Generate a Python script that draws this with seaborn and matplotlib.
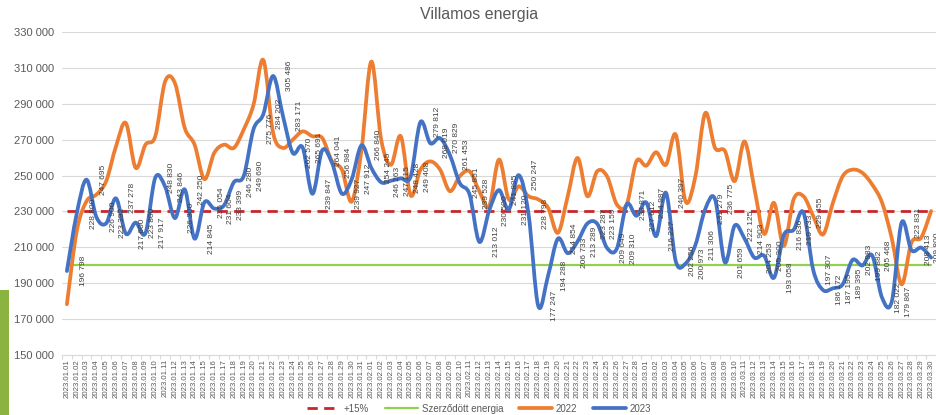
import matplotlib
matplotlib.use("Agg")
import matplotlib.pyplot as plt
from matplotlib.path import Path
from matplotlib.patches import PathPatch, Rectangle
from matplotlib.lines import Line2D
from matplotlib.ticker import FuncFormatter
import numpy as np
import pandas as pd
import seaborn as sns

# Data
dates = pd.date_range("2023-01-01", "2023-03-30").strftime("%Y.%m.%d").tolist()

values_2022 = [178300, 219000, 235700, 239400, 246900, 266300, 279300, 254300, 267200, 271900,
               302400, 301500, 276500, 267200, 248000, 262600, 267200, 265400, 275600, 289400,
               314400, 273700, 265400, 270000, 274600, 271900, 270900, 257900, 253300, 235500,
               264400, 313500, 270000, 256000, 271900, 239000, 253300, 257900, 253300, 241300,
               249600, 252400, 241300, 233000, 258900, 236700, 244000, 238500, 236700, 232000,
               218100, 238500, 259800, 238500, 252400, 249600, 233900, 233900, 258000, 255500,
               263000, 256000, 272800, 235500, 249600, 284800, 265400, 263700, 246900, 269000,
               243000, 217500, 234800, 210700, 236700, 238500, 227400, 217200, 234800, 249600,
               253300, 251500, 245000, 235000, 215000, 189400, 212600, 215500, 230200]

values_2023 = [196798, 228800, 247695, 226900, 223392, 237278, 217600, 223800, 217917, 248830,
               243846, 226300, 242250, 214845, 235054, 231604, 233399, 246280, 249690, 275776,
               284202, 305486, 283171, 262570, 265691, 239847, 264041, 256984, 239927, 247912,
               266840, 254245, 246263, 247115, 248428, 249408, 279812, 268019, 270829, 261453,
               245851, 239528, 213012, 230500, 241895, 231120, 250247, 228798, 177247, 194288,
               214854, 206733, 213289, 223287, 223159, 209649, 209310, 233871, 227612, 234987,
               216227, 240397, 202256, 200973, 211306, 231279, 236775, 201659, 222125, 214903,
               204253, 205300, 193058, 216836, 219733, 229455, 197307, 186172, 187195, 189395,
               202983, 199882, 205468, 182022, 179867, 223831, 208413, 209800, 204300]

plus15_level = 230000
contract_level = 200000
y_ticks = list(range(150000, 330001, 20000))

C_2022 = "#ED7D31"
C_2023 = "#4472C4"
C_RED = "#C8262B"
C_GREEN = "#92D050"
C_TEXT = "#595959"
C_GRID = "#D9D9D9"

sns.set_theme(style="white")
plt.rcParams['font.family'] = ['Liberation Sans', 'DejaVu Sans']


def fmt(v):
    return f"{v:,.0f}".replace(",", " ")


def smooth_path(y):
    # Excel-style smoothed line: cubic Bezier through every data point
    pts = np.column_stack([np.arange(len(y)), y]).astype(float)
    n = len(pts)
    verts, codes = [pts[0]], [Path.MOVETO]
    for i in range(n - 1):
        p0, p1 = pts[max(i - 1, 0)], pts[i]
        p2, p3 = pts[i + 1], pts[min(i + 2, n - 1)]
        verts += [p1 + (p2 - p0) / 6, p2 - (p3 - p1) / 6, p2]
        codes += [Path.CURVE4] * 3
    return Path(verts, codes)


n = len(dates)
x = np.arange(n)
df = pd.DataFrame({"x": x,
                   "plus15": [plus15_level] * n,
                   "contract": [contract_level] * n})

fig = plt.figure(figsize=(9.36, 4.15), dpi=100)
ax = fig.add_axes([62 / 936, 1 - 355 / 415, (936 - 62) / 936, (355 - 32) / 415])

sns.lineplot(data=df, x="x", y="plus15", ax=ax, color=C_RED, linewidth=2.0,
             linestyle=(0, (3.7, 2.3)), zorder=2)
sns.lineplot(data=df, x="x", y="contract", ax=ax, color=C_GREEN, linewidth=1.6, zorder=2)

for vals, col in [(values_2022, C_2022), (values_2023, C_2023)]:
    ax.add_patch(PathPatch(smooth_path(vals), facecolor="none", edgecolor=col,
                           linewidth=2.7, capstyle="round", joinstyle="round", zorder=3))

for i, v in enumerate(values_2023):
    ax.annotate(fmt(v), (i, v), xytext=(12, 0), textcoords="offset points",
                rotation=90, ha="center", va="center", fontsize=6.0,
                color="#404040", annotation_clip=False, zorder=4)

ax.set_xlim(-0.5, 88.32)
ax.set_ylim(150000, 330000)
ax.set_yticks(y_ticks)
ax.yaxis.set_major_formatter(FuncFormatter(lambda v, p: fmt(v)))
ax.grid(axis="y", color=C_GRID, linewidth=0.8)
ax.grid(axis="x", visible=False)
ax.set_axisbelow(True)

ax.set_xticks(x)
ax.set_xticklabels(dates, rotation=90, fontsize=5.6, color=C_TEXT)
ax.set_xticks(np.arange(-0.5, n, 1), minor=True)
ax.tick_params(axis="x", which="major", length=0, pad=3)
ax.tick_params(axis="x", which="minor", length=3, color=C_GRID, width=0.8, bottom=True)
ax.tick_params(axis="y", length=0, pad=6, labelsize=8, labelcolor=C_TEXT)
ax.set_xlabel("")
ax.set_ylabel("")
for side in ["top", "right", "left"]:
    ax.spines[side].set_visible(False)
ax.spines["bottom"].set_color(C_GRID)
ax.spines["bottom"].set_linewidth(0.8)

fig.text(479 / 936, 1 - 14 / 415, "Villamos energia", ha="center", va="center",
         fontsize=11.5, color=C_TEXT)

handles = [Line2D([], [], color=C_RED, linewidth=2.0, linestyle=(0, (3.7, 2.3))),
           Line2D([], [], color=C_GREEN, linewidth=1.6),
           Line2D([], [], color=C_2022, linewidth=2.7),
           Line2D([], [], color=C_2023, linewidth=2.7)]
fig.legend(handles, ["+15%", "Szerződött energia", "2022", "2023"], ncol=4,
           loc="center", bbox_to_anchor=(479 / 936, 1 - 408.5 / 415), frameon=False,
           fontsize=7, labelcolor=C_TEXT, handlelength=3.4, handletextpad=0.4,
           columnspacing=1.6, borderpad=0.1)

fig.patches.append(Rectangle((0, 0), 9 / 936, 125 / 415, transform=fig.transFigure,
                             facecolor="#8AB43F", edgecolor="none"))

fig.savefig("out.png", dpi=100)
